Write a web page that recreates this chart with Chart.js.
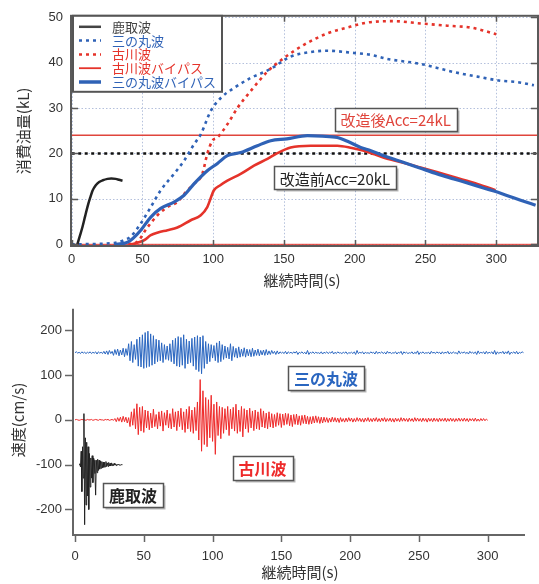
<!DOCTYPE html>
<html>
<head>
<meta charset="utf-8">
<script src="https://cdn.jsdelivr.net/npm/chart.js@4.4.1/dist/chart.umd.min.js"></script>
<style>
html, body { margin: 0; padding: 0; background: #fff; }
#wrap { position: relative; width: 539px; height: 584px; overflow: hidden; background: #fff; }
#fuelChart { position: absolute; left: 0; top: 0; }
#waveChart { position: absolute; left: 0; top: 290px; }
</style>
</head>
<body>
<div id="wrap">
  <canvas id="fuelChart" width="539" height="295"></canvas>
  <canvas id="waveChart" width="539" height="294"></canvas>
</div>
<script>
// ---- top panel: fuel consumed (kL) vs duration (s) ----
const katoriTime = [4, 5.5, 7.6, 9.5, 11.1, 13, 14.7, 17, 19.4, 22, 25.3, 28, 31.1, 33.5, 35.9];
const katoriFuel = [0, 1.6, 3.8, 6.2, 8.2, 10.2, 11.8, 13, 13.7, 14.1, 14.4, 14.5, 14.4, 14.2, 14.0];

const sannomaruTime = [0, 30, 36, 41.7, 48.8, 55.9, 62.9, 72.3, 79.4, 86.4, 91.2, 98.2, 105.3, 114.7, 126.4, 135.9, 140.6, 154.7, 168.8, 180.6, 199.4, 211.4, 223, 246.5, 258.3, 270.1, 286.6, 303, 314.8, 326.6];
const sannomaruFuel = [0, 0.3, 0.8, 1.7, 4.6, 8.2, 11.9, 15.5, 18.4, 22, 24.2, 29.3, 32.2, 34.4, 36.6, 37.9, 38.6, 41.3, 42.3, 42.6, 42.1, 41.7, 40.8, 39.7, 38.8, 37.9, 36.9, 36, 35.7, 35];

const furukawaTime = [40, 46.5, 53, 60.6, 67.7, 74.7, 80.6, 86.4, 92.3, 95.8, 99.4, 102.9, 110, 117.1, 126.4, 138.3, 150, 164.1, 180.6, 197.1, 208.9, 227.7, 246.5, 265.4, 281.9, 291.3, 300];
const furukawaFuel = [0, 0.6, 3.5, 6.4, 8.2, 9.3, 11.5, 13.3, 15.5, 19.9, 22.8, 23.5, 26.4, 30, 33.7, 38, 41, 43.9, 46.4, 47.9, 48.8, 49.1, 48.6, 48.1, 47.7, 47, 46.2];

const furukawaBpTime = [42, 51.1, 55.9, 61, 67.7, 74.7, 84.1, 91.2, 95.8, 100.5, 105, 110, 119.4, 128.8, 138.3, 145, 154.7, 168.8, 187.7, 198, 206.5, 214, 223, 235, 246.5, 258, 270, 286.6, 299.5];
const furukawaBpFuel = [0, 0.9, 2, 2.6, 3.1, 3.7, 5.3, 6.4, 8.2, 11.9, 13, 14, 15.5, 17.3, 18.8, 20, 21.3, 21.7, 21.7, 21.2, 20.6, 19.8, 18.8, 17.9, 16.9, 15.9, 14.8, 13.3, 11.9];

const sannomaruBpTime = [30, 38, 41.7, 48.8, 55.9, 62.9, 72.3, 79.4, 86.4, 95.8, 103, 110, 119.4, 131.2, 140.6, 152, 166.5, 177, 187.7, 196, 204.2, 211.4, 222, 234.7, 246, 258.3, 270, 281.8, 291, 300.7, 309, 317.2, 327.8];
const sannomaruBpFuel = [0, 0.3, 0.9, 3.1, 6, 7.9, 9.3, 10.8, 13.3, 16.2, 17.8, 19.5, 20.2, 21.7, 22.8, 23.2, 23.9, 23.8, 23.5, 22.5, 21.3, 20.6, 19.3, 18, 16.8, 15.5, 14.4, 13.3, 12.4, 11.5, 10.6, 9.7, 8.6];

const accBefore = 20;   // 改造前Acc
const accAfter = 24;    // 改造後Acc
const fuelSpan = [0, 330];

const fuelTicksX = [0, 50, 100, 150, 200, 250, 300];
const fuelTicksY = [0, 10, 20, 30, 40, 50];

// ---- bottom panel: velocity waveforms (cm/s), 1 s samples from t=0 ----
const sannomaruWave = [
  150,152,149,151,148,152,149,151,148,151, 149,152,148,151,149,152,147,152,149,151, 148,153,
  147,154,146,155,148,153,144,157,146,158, 143,156,145,160,141,159,144,
  170,132,175,128,168,135,180,
  120,185,118,190,115,195,117,198,119,192, 122,188,125,180,130,178,
  132,172,128,168,135,165,133,170,130,
  178,125,182,120,186,118,184,122,190,115, 180,125,176,128,182,120,185,112,188,108, 185,103,188,115,175,125,170,130,168,
  138,166,132,172,128,176,130,168,135,165, 138,162,136,170,132,164,140,160,138,163, 140,158,142,161,140,158,143,157,141,160, 142,156,144,158,143,155,145,156,144,157, 145,154,146,155,
  148,153,146,154,147,152,149,151,148,153, 147,152,149,151,148,152,149,153,146,151,
  149,152,148,151,147,155,146,151,149,152, 148,151,149,150,148,152,147,151,149,152,
  148,151,149,153,147,151,148,152,149,150, 148,151,149,152,147,150,149,151,148,152,
  146,155,148,151,149,152,147,151,149,150, 148,152,149,151,147,153,148,151,149,152,
  148,151,147,153,149,151,148,150,149,152, 147,151,149,153,146,152,149,151,148,150,
  149,152,147,151,148,154,146,151,149,152, 148,150,149,151,147,153,149,151,148,152,
  149,151,147,152,148,151,149,153,147,151, 148,152,149,150,147,154,148,151,149,152,
  148,151,147,153,149,151,148,152,146,154, 148,151,149,152,147,153,148,151,149,152,
  147,155,146,152,148,151,149,153,147,152, 148,154,146,151,149,152,148,153,147,151,
  149,152,150
];
const furukawaWave = [
  0,1,0,-1,0,1,0,0,-1,1, 0,0,1,-1,0,1,0,-1,1,0, 0,-1,1,0,1,-1,0,1,-1,
  3,-4,5,-3,6,-5,8,-4,6,-7,5,
  -15,18,-12,25,-20,36,-33,28,-25,30,-28,22,-18,
  20,-22,15,-18,24,-15,12,-20,18,-14, 20,-25,16,-12,22,-18,14,-20,25,-16, 18,-24,20,-15,26,-22,18,-28,24,-20, 30,-26,22,-30,28,-24,
  40,-45,90,-70,65,-55,50,-60,45,-40, 55,-48,35,-77,40,-35,30,-42,
  28,-30,25,-22,30,-35,24,-20,28,-25, 35,-30,22,-26,30,-38,25,-20,22,-28, 26,-18,20,-24,22,-20,18,-22,25,-16, 20,-18,15,-20,18,
  -16,14,-18,12,-15,16,-12,14,-17,13, -12,15,-10,14,-13,11,-15,12,-10,13, -11,9,-12,10,-8,11,-9,8,-10,7, -9,8,-7,9,-6,7,-8,6,-7,
  6,-5,5,-6,4,-5,6,-4,5,-5, 4,-6,5,-4,3,-5,4,-4,5,-3,
  4,-5,3,-4,5,-3,4,-4,3,-5, 4,-3,5,-4,3,-4,4,-3,5,-4,
  3,-4,4,-3,5,-4,3,-3,4,-4, 3,-5,4,-3,3,-4,5,-3,4,-3,
  3,-4,4,-3,3,-4,5,-3,4,-3, 3,-4,4,-3,3,-5,4,-3,3,-4,
  4,-3,3,-4,4,-3,3,-3,4,-4, 3,-3,4,-3,3,-4,3,-3,4,-3,
  3,-3,4,-3,3,-4,3,-2,3,-3, 4,-3,2,-3,3,-2,3,-2,2,-1
];
// half-second samples from t=3
const katoriWave = [
  -100,-98,-105,-70,-160,-60,-130,14,-234,-40,
  -190,-50,-170,-60,-200,-75,-150,-85,-130,-80,
  -140,-85,-90,-120,-168,-90,-118,-88,-113,-90,
  -110,-92,-108,-93,-107,-94,-106,-95,-105,-93,
  -104,-96,-104,-95,-103,-97,-103,-96,-102,-98,
  -102,-97,-101,-99,-102,-99,-101,-99,-101,-100,
  -101,-100,-100,-100
];
const waveStart = { sannomaru: 0, furukawa: 0, katori: 3 };
const waveStep = { sannomaru: 1, furukawa: 1, katori: 0.5 };

const waveTicksX = [0, 50, 100, 150, 200, 250, 300];
const waveTicksY = [-200, -100, 0, 100, 200];

const BLUE = '#2f62b6';
const RED = '#e5332a';
const BLACK = '#222222';
const JP = '"Noto Sans CJK JP", sans-serif';
const NUM = '"Liberation Sans", Arial, sans-serif';

const pts = (xs, ys) => xs.map((x, i) => ({ x: x, y: ys[i] }));
const wavePts = (vals, t0, dt) => vals.map((v, i) => ({ x: t0 + i * dt, y: v }));
const flat = v => fuelSpan.map(x => ({ x: x, y: v }));
const useTicks = list => s => { s.ticks = list.map(v => ({ value: v })); };

// --- drawing helpers ---
function labelBox(ctx, text, cx, cy, color, font, h) {
    ctx.save();
    ctx.font = font;
    const w = Math.round(ctx.measureText(text).width + 12);
    const x0 = Math.round(cx - w / 2) + 0.5, y0 = Math.round(cy - h / 2) + 0.5;
    ctx.fillStyle = 'rgba(0,0,0,0.28)';
    ctx.fillRect(x0 + 2, y0 + 2, w, h);
    ctx.fillStyle = '#fff';
    ctx.fillRect(x0, y0, w, h);
    ctx.strokeStyle = '#555';
    ctx.lineWidth = 1.5;
    ctx.strokeRect(x0, y0, w, h);
    ctx.fillStyle = color;
    ctx.textAlign = 'center';
    ctx.textBaseline = 'middle';
    ctx.fillText(text, cx, cy + 1);
    ctx.restore();
}

function vTitle(ctx, text, cx, cy, font) {
    ctx.save();
    ctx.translate(cx, cy);
    ctx.rotate(-Math.PI / 2);
    ctx.font = font;
    ctx.fillStyle = '#333';
    ctx.textAlign = 'center';
    ctx.textBaseline = 'middle';
    ctx.fillText(text, 0, 0);
    ctx.restore();
}

const legendItems = [
    { label: '鹿取波', color: '#444', width: 2.5, dash: [] },
    { label: '三の丸波', color: BLUE, width: 2.5, dash: [3, 4] },
    { label: '古川波', color: RED, width: 2.5, dash: [3, 4] },
    { label: '古川波バイパス', color: RED, width: 1.8, dash: [] },
    { label: '三の丸波バイパス', color: BLUE, width: 3.5, dash: [] }
];

// --- TOP PANEL FRAME / GRID / LEGEND ---
const fuelFrame = {
    id: 'fuelFrame',
    beforeDatasetsDraw(chart) {
        const { ctx, chartArea: a, scales: { x, y } } = chart;
        ctx.save();
        ctx.strokeStyle = '#b4c0dc';
        ctx.lineWidth = 1;
        ctx.setLineDash([1.5, 2]);
        x.ticks.forEach(t => {
            const px = Math.round(x.getPixelForValue(t.value)) + 0.5;
            ctx.beginPath(); ctx.moveTo(px, a.top); ctx.lineTo(px, a.bottom); ctx.stroke();
        });
        y.ticks.forEach(t => {
            const py = Math.round(y.getPixelForValue(t.value)) + 0.5;
            ctx.beginPath(); ctx.moveTo(a.left, py); ctx.lineTo(a.right, py); ctx.stroke();
        });
        ctx.restore();
    },
    afterDatasetsDraw(chart) {
        const { ctx, chartArea: a, scales: { x, y } } = chart;
        ctx.save();
        // frame + inward ticks
        ctx.strokeStyle = '#5a5a5a';
        ctx.lineWidth = 2;
        ctx.strokeRect(a.left, a.top, a.right - a.left, a.bottom - a.top);
        ctx.lineWidth = 1.5;
        x.ticks.forEach(t => {
            const px = Math.round(x.getPixelForValue(t.value)) + 0.5;
            ctx.beginPath();
            ctx.moveTo(px, a.bottom); ctx.lineTo(px, a.bottom - 6);
            ctx.moveTo(px, a.top); ctx.lineTo(px, a.top + 6);
            ctx.stroke();
        });
        y.ticks.forEach(t => {
            const py = Math.round(y.getPixelForValue(t.value)) + 0.5;
            ctx.beginPath();
            ctx.moveTo(a.left, py); ctx.lineTo(a.left + 7, py);
            ctx.moveTo(a.right, py); ctx.lineTo(a.right - 7, py);
            ctx.stroke();
        });

        // legend box
        const lx = a.left + 2, ly = a.top, lw = 149, lh = 76;
        ctx.fillStyle = '#fff';
        ctx.fillRect(lx, ly, lw, lh);
        ctx.strokeStyle = '#555';
        ctx.lineWidth = 2;
        ctx.strokeRect(lx, ly, lw, lh);
        ctx.font = '13px ' + JP;
        ctx.textBaseline = 'middle';
        ctx.textAlign = 'left';
        legendItems.forEach((it, i) => {
            const ry = ly + 11 + i * 13.8;
            ctx.strokeStyle = it.color;
            ctx.lineWidth = it.width;
            ctx.setLineDash(it.dash);
            ctx.beginPath(); ctx.moveTo(lx + 6, ry); ctx.lineTo(lx + 28, ry); ctx.stroke();
            ctx.setLineDash([]);
            ctx.fillStyle = it.color;
            ctx.fillText(it.label, lx + 39, ry);
        });
        ctx.restore();

        labelBox(ctx, '改造後Acc=' + accAfter + 'kL', x.getPixelForValue(229), y.getPixelForValue(27.5), '#e0453c', '15px ' + JP, 23);
        labelBox(ctx, '改造前Acc=' + accBefore + 'kL', x.getPixelForValue(186), y.getPixelForValue(14.6), '#222', '15px ' + JP, 23);

        vTitle(ctx, '消費油量(kL)', 23, (a.top + a.bottom) / 2, '15px ' + JP);
        ctx.save();
        ctx.font = '15px ' + JP;
        ctx.fillStyle = '#333';
        ctx.textAlign = 'center';
        ctx.textBaseline = 'middle';
        ctx.fillText('継続時間(s)', 302, 280);
        ctx.restore();
    }
};

// --- BOTTOM PANEL AXES / LABELS ---
const waveAxes = {
    id: 'waveAxes',
    afterDatasetsDraw(chart) {
        const { ctx, chartArea: a, scales: { x, y } } = chart;
        ctx.save();
        ctx.strokeStyle = '#666';
        ctx.lineWidth = 2;
        ctx.beginPath();
        ctx.moveTo(a.left, a.top); ctx.lineTo(a.left, a.bottom); ctx.lineTo(a.right, a.bottom);
        ctx.stroke();
        ctx.lineWidth = 1.5;
        x.ticks.forEach(t => {
            const px = Math.round(x.getPixelForValue(t.value)) + 0.5;
            ctx.beginPath(); ctx.moveTo(px, a.bottom); ctx.lineTo(px, a.bottom + 7); ctx.stroke();
        });
        y.ticks.forEach(t => {
            const py = Math.round(y.getPixelForValue(t.value)) + 0.5;
            ctx.beginPath(); ctx.moveTo(a.left, py); ctx.lineTo(a.left - 8, py); ctx.stroke();
        });
        ctx.restore();

        labelBox(ctx, '三の丸波', x.getPixelForValue(182.5), y.getPixelForValue(94), '#2a66c0', 'bold 16px ' + JP, 24);
        labelBox(ctx, '古川波', x.getPixelForValue(136.3), y.getPixelForValue(-108), '#ee2a2a', 'bold 16px ' + JP, 24);
        labelBox(ctx, '鹿取波', x.getPixelForValue(42.2), y.getPixelForValue(-168), '#222', 'bold 16px ' + JP, 24);

        vTitle(ctx, '速度(cm/s)', 18, 130, '15px ' + JP);
        ctx.save();
        ctx.font = '15px ' + JP;
        ctx.fillStyle = '#333';
        ctx.textAlign = 'center';
        ctx.textBaseline = 'middle';
        ctx.fillText('継続時間(s)', 300, 282);
        ctx.restore();
    }
};

const tickFont = { family: NUM, size: 13 };

new Chart(document.getElementById('fuelChart'), {
    type: 'scatter',
    data: {
        datasets: [
            { data: pts(katoriTime, katoriFuel), borderColor: BLACK, borderWidth: 2.5 },
            { data: pts(sannomaruBpTime, sannomaruBpFuel), borderColor: BLUE, borderWidth: 3.2 },
            { data: pts(furukawaBpTime, furukawaBpFuel), borderColor: RED, borderWidth: 2.6 },
            { data: pts(sannomaruTime, sannomaruFuel), borderColor: BLUE, borderWidth: 2.6, borderDash: [3, 4] },
            { data: pts(furukawaTime, furukawaFuel), borderColor: RED, borderWidth: 2.6, borderDash: [3, 4] },
            { data: flat(accBefore), borderColor: '#111', borderWidth: 2.5, borderDash: [3, 3.5] },
            { data: flat(accAfter), borderColor: '#e0453c', borderWidth: 1.5 },
            { data: flat(0), borderColor: RED, borderWidth: 1 }
        ].map(d => Object.assign({ showLine: true, pointRadius: 0, cubicInterpolationMode: 'monotone', fill: false }, d))
    },
    options: {
        responsive: false,
        animation: false,
        devicePixelRatio: 1,
        layout: { padding: { top: 14, right: 1, left: 0, bottom: 0 } },
        plugins: { legend: { display: false }, tooltip: { enabled: false } },
        scales: {
            x: {
                type: 'linear', min: -0.5, max: 329.5,
                afterFit: s => { s.height = 49; },
                afterBuildTicks: useTicks(fuelTicksX),
                ticks: { font: tickFont, color: '#333', padding: 6, maxRotation: 0, autoSkip: false },
                grid: { display: false, drawTicks: false },
                border: { display: false }
            },
            y: {
                type: 'linear', min: -0.37, max: 50.28,
                afterFit: s => { s.width = 71; },
                afterBuildTicks: useTicks(fuelTicksY),
                ticks: { font: tickFont, color: '#333', padding: 8, autoSkip: false },
                grid: { display: false, drawTicks: false },
                border: { display: false }
            }
        }
    },
    plugins: [fuelFrame]
});

new Chart(document.getElementById('waveChart'), {
    type: 'scatter',
    data: {
        datasets: [
            { data: wavePts(katoriWave, waveStart.katori, waveStep.katori), borderColor: BLACK },
            { data: wavePts(furukawaWave, waveStart.furukawa, waveStep.furukawa), borderColor: '#ee2a2a' },
            { data: wavePts(sannomaruWave, waveStart.sannomaru, waveStep.sannomaru), borderColor: '#2a66c0' }
        ].map(d => Object.assign({ showLine: true, pointRadius: 0, borderWidth: 1, tension: 0, fill: false }, d))
    },
    options: {
        responsive: false,
        animation: false,
        devicePixelRatio: 1,
        layout: { padding: { top: 15, right: 14, left: 0, bottom: 0 } },
        plugins: { legend: { display: false }, tooltip: { enabled: false } },
        scales: {
            x: {
                type: 'linear', min: -1.45, max: 327.1,
                afterFit: s => { s.height = 49; },
                afterBuildTicks: useTicks(waveTicksX),
                ticks: { font: tickFont, color: '#333', padding: 14, maxRotation: 0, autoSkip: false },
                grid: { display: false, drawTicks: false },
                border: { display: false }
            },
            y: {
                type: 'linear', min: -257, max: 248,
                afterFit: s => { s.width = 73; },
                afterBuildTicks: useTicks(waveTicksY),
                ticks: { font: tickFont, color: '#333', padding: 11, autoSkip: false },
                grid: { display: false, drawTicks: false },
                border: { display: false }
            }
        }
    },
    plugins: [waveAxes]
});
</script>
</body>
</html>
